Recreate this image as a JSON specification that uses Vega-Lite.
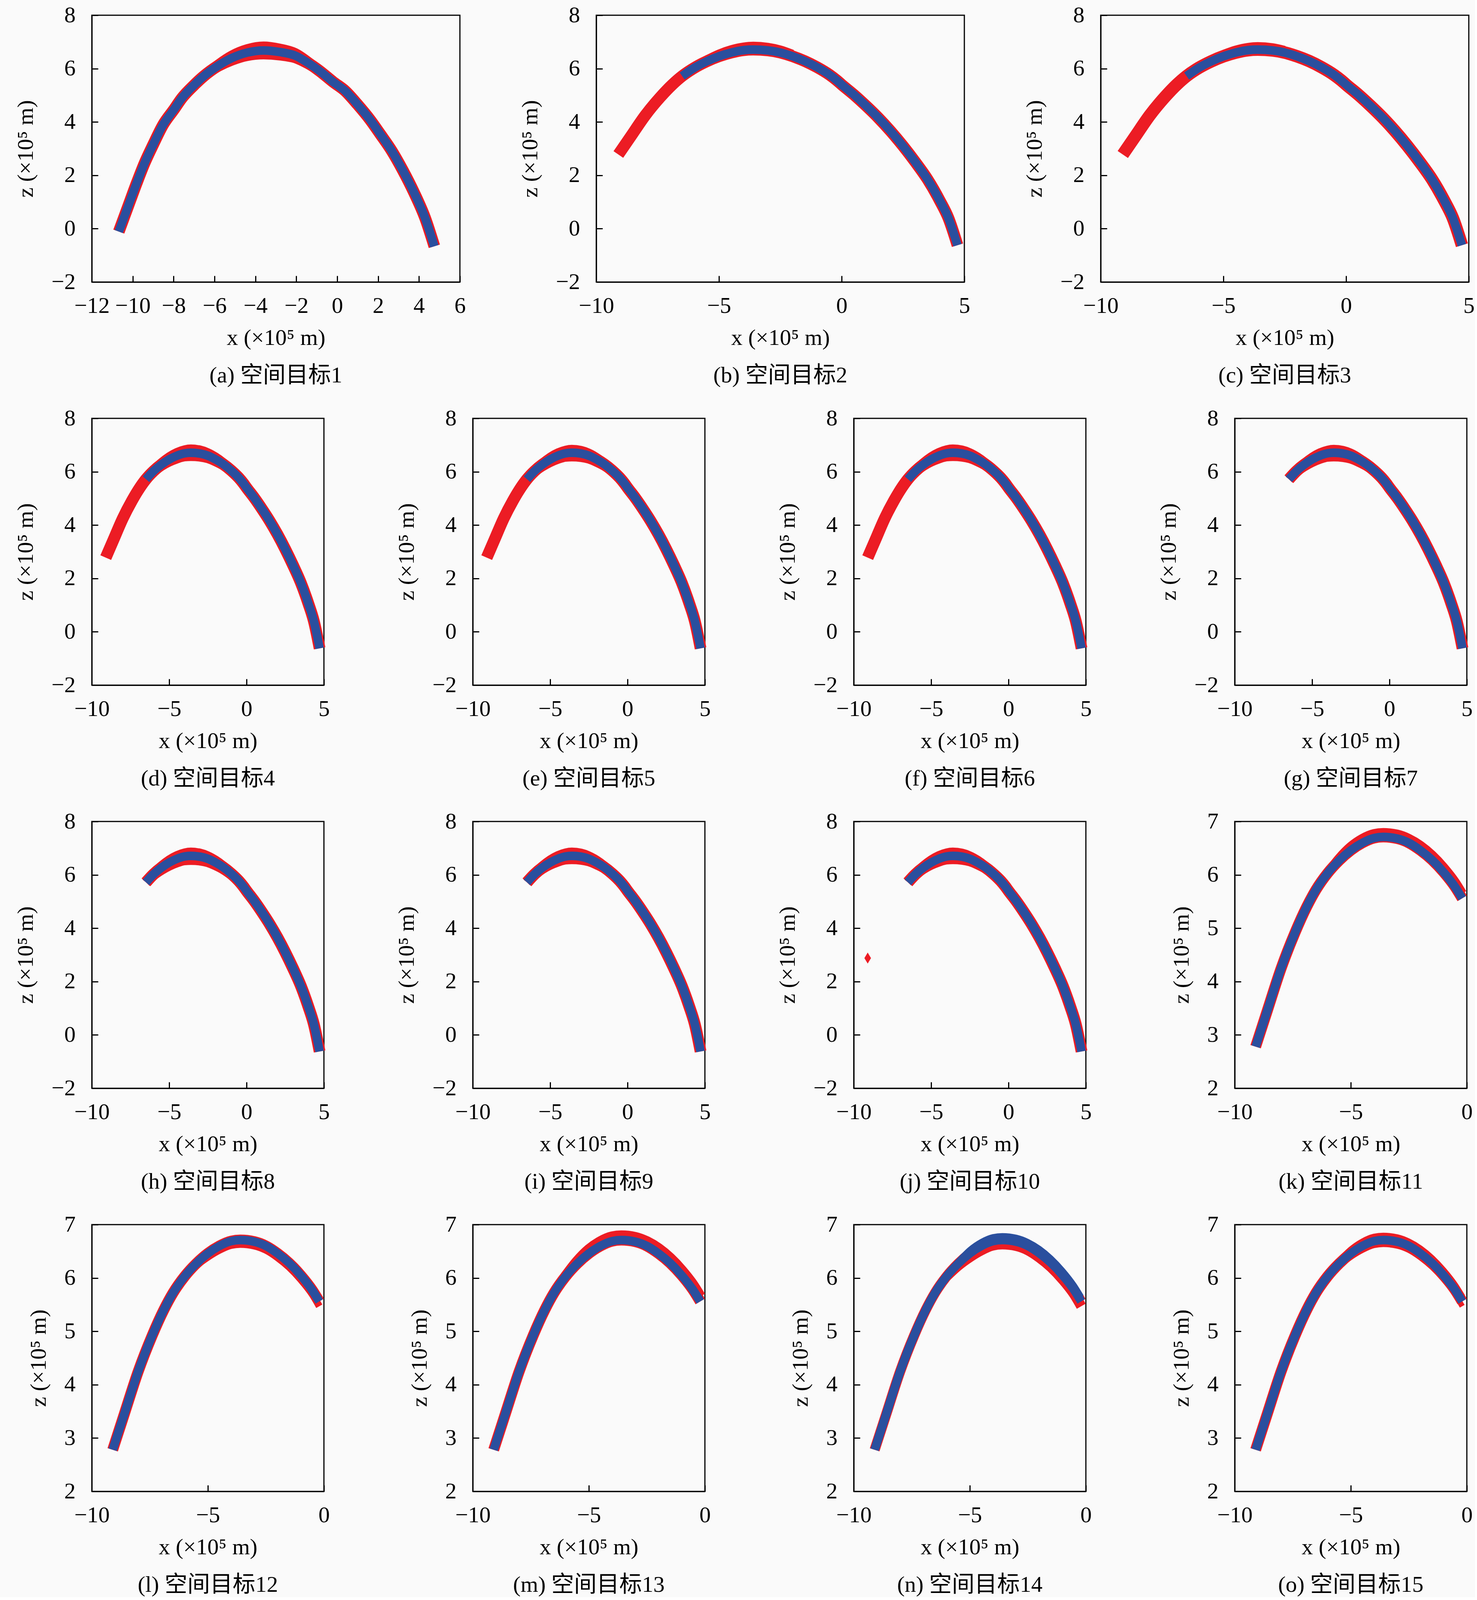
{
  "$schema": "https://vega.github.io/schema/vega-lite/v6.json",
  "background": "#fafafa",
  "padding": {"left": 35, "top": 8, "right": 0, "bottom": 0},
  "datasets": {
    "ta": [
      {"x": -10.68, "z": -0.11}, {"x": -10.2, "z": 0.89}, {"x": -9.8, "z": 1.72}, {"x": -9.43, "z": 2.44},
      {"x": -9.0, "z": 3.15}, {"x": -8.51, "z": 3.9}, {"x": -8.0, "z": 4.45}, {"x": -7.59, "z": 4.9},
      {"x": -7.0, "z": 5.38}, {"x": -6.52, "z": 5.72}, {"x": -5.8, "z": 6.12}, {"x": -5.14, "z": 6.4},
      {"x": -4.4, "z": 6.6}, {"x": -3.6, "z": 6.68}, {"x": -2.8, "z": 6.62}, {"x": -2.07, "z": 6.49},
      {"x": -1.4, "z": 6.2}, {"x": -0.84, "z": 5.9}, {"x": -0.2, "z": 5.5}, {"x": 0.38, "z": 5.17},
      {"x": 1.0, "z": 4.65}, {"x": 1.61, "z": 4.08}, {"x": 2.1, "z": 3.55}, {"x": 2.68, "z": 2.9},
      {"x": 3.2, "z": 2.2}, {"x": 3.76, "z": 1.35}, {"x": 4.3, "z": 0.4}, {"x": 4.75, "z": -0.66}
    ],
    "taHi": [
      {"x": -6.52, "z": 5.72}, {"x": -5.8, "z": 6.18}, {"x": -5.14, "z": 6.51}, {"x": -4.4, "z": 6.74},
      {"x": -3.6, "z": 6.84}, {"x": -2.8, "z": 6.76}, {"x": -2.07, "z": 6.6}, {"x": -1.4, "z": 6.26},
      {"x": -0.84, "z": 5.9}
    ],
    "taLo": [
      {"x": -6.52, "z": 5.72}, {"x": -5.8, "z": 6.06}, {"x": -5.14, "z": 6.29}, {"x": -4.4, "z": 6.46},
      {"x": -3.6, "z": 6.52}, {"x": -2.8, "z": 6.48}, {"x": -2.07, "z": 6.38}, {"x": -1.4, "z": 6.14},
      {"x": -0.84, "z": 5.9}
    ],
    "t": [
      {"x": -9.1, "z": 2.78}, {"x": -8.6, "z": 3.45}, {"x": -8.0, "z": 4.25}, {"x": -7.4, "z": 4.92},
      {"x": -6.9, "z": 5.4}, {"x": -6.5, "z": 5.72}, {"x": -6.0, "z": 6.03}, {"x": -5.5, "z": 6.27},
      {"x": -5.0, "z": 6.46}, {"x": -4.5, "z": 6.6}, {"x": -4.0, "z": 6.69}, {"x": -3.6, "z": 6.71},
      {"x": -3.0, "z": 6.68}, {"x": -2.5, "z": 6.6}, {"x": -2.0, "z": 6.46}, {"x": -1.5, "z": 6.28},
      {"x": -1.0, "z": 6.05}, {"x": -0.5, "z": 5.77}, {"x": -0.2, "z": 5.56}, {"x": 0.0, "z": 5.4},
      {"x": 0.5, "z": 5.02}, {"x": 1.0, "z": 4.6}, {"x": 1.5, "z": 4.15}, {"x": 2.0, "z": 3.65},
      {"x": 2.5, "z": 3.1}, {"x": 3.0, "z": 2.5}, {"x": 3.5, "z": 1.85}, {"x": 4.0, "z": 1.05},
      {"x": 4.35, "z": 0.4}, {"x": 4.72, "z": -0.62}
    ],
    "tHi": [
      {"x": -6.5, "z": 5.72}, {"x": -6.0, "z": 6.07}, {"x": -5.5, "z": 6.35}, {"x": -5.0, "z": 6.57},
      {"x": -4.5, "z": 6.73}, {"x": -4.0, "z": 6.83}, {"x": -3.6, "z": 6.86}, {"x": -3.0, "z": 6.82},
      {"x": -2.5, "z": 6.72}, {"x": -2.0, "z": 6.56}, {"x": -1.5, "z": 6.35}, {"x": -1.0, "z": 6.09},
      {"x": -0.5, "z": 5.77}
    ],
    "tLo": [
      {"x": -6.5, "z": 5.72}, {"x": -6.0, "z": 5.99}, {"x": -5.5, "z": 6.19}, {"x": -5.0, "z": 6.35},
      {"x": -4.5, "z": 6.47}, {"x": -4.0, "z": 6.55}, {"x": -3.6, "z": 6.56}, {"x": -3.0, "z": 6.54},
      {"x": -2.5, "z": 6.48}, {"x": -2.0, "z": 6.36}, {"x": -1.5, "z": 6.21}, {"x": -1.0, "z": 6.01},
      {"x": -0.5, "z": 5.77}
    ],
    "hi": [
      {"x": -6.0, "z": 6.03}, {"x": -5.5, "z": 6.31}, {"x": -5.0, "z": 6.53}, {"x": -4.5, "z": 6.68},
      {"x": -4.0, "z": 6.77}, {"x": -3.6, "z": 6.79}, {"x": -3.0, "z": 6.76}, {"x": -2.5, "z": 6.68},
      {"x": -2.0, "z": 6.55}, {"x": -1.5, "z": 6.37}, {"x": -1.0, "z": 6.14}, {"x": -0.5, "z": 5.86},
      {"x": -0.2, "z": 5.65}
    ],
    "lo": [
      {"x": -6.0, "z": 6.03}, {"x": -5.5, "z": 6.23}, {"x": -5.0, "z": 6.39}, {"x": -4.5, "z": 6.52},
      {"x": -4.0, "z": 6.61}, {"x": -3.6, "z": 6.63}, {"x": -3.0, "z": 6.6}, {"x": -2.5, "z": 6.52},
      {"x": -2.0, "z": 6.38}, {"x": -1.5, "z": 6.2}, {"x": -1.0, "z": 5.97}, {"x": -0.5, "z": 5.69},
      {"x": -0.2, "z": 5.47}
    ],
    "dot": [{"x": -9.1, "z": 2.88}]
  },
  "spacing": 47,
  "vconcat": [
    {
      "bounds": "flush",
      "spacing": 349,
      "hconcat": [
        {
          "width": 942, "height": 683, "title": "(a) 空间目标1",
          "encoding": {
            "x": {"field": "x", "type": "quantitative", "scale": {"domain": [-12, 6], "nice": false, "zero": false}, "axis": {"values": [-12, -10, -8, -6, -4, -2, 0, 2, 4, 6], "title": "x (×10⁵ m)"}},
            "y": {"field": "z", "type": "quantitative", "scale": {"domain": [-2, 8], "nice": false, "zero": false}, "axis": {"values": [-2, 0, 2, 4, 6, 8], "title": "z (×10⁵ m)"}}
          },
          "layer": [
            {"data": {"name": "ta"}, "mark": {"type": "line", "color": "#ec1c24", "strokeWidth": 30, "interpolate": "monotone", "strokeJoin": "round"}},
            {"data": {"name": "taHi"}, "mark": {"type": "line", "color": "#ec1c24", "strokeWidth": 24, "interpolate": "monotone", "strokeJoin": "round"}},
            {"data": {"name": "taLo"}, "mark": {"type": "line", "color": "#ec1c24", "strokeWidth": 24, "interpolate": "monotone", "strokeJoin": "round"}},
            {"data": {"name": "ta"}, "mark": {"type": "line", "color": "#2a4f9e", "strokeWidth": 22, "interpolate": "monotone", "strokeJoin": "round"}}
          ]
        },
        {
          "width": 942, "height": 683, "title": "(b) 空间目标2",
          "encoding": {
            "x": {"field": "x", "type": "quantitative", "scale": {"domain": [-10, 5], "nice": false, "zero": false}, "axis": {"values": [-10, -5, 0, 5], "title": "x (×10⁵ m)"}},
            "y": {"field": "z", "type": "quantitative", "scale": {"domain": [-2, 8], "nice": false, "zero": false}, "axis": {"values": [-2, 0, 2, 4, 6, 8], "title": "z (×10⁵ m)"}}
          },
          "layer": [
            {"data": {"name": "t"}, "mark": {"type": "line", "color": "#ec1c24", "strokeWidth": 30, "interpolate": "monotone", "strokeJoin": "round"}},
            {"data": {"name": "tHi"}, "transform": [{"filter": "datum.x >= -5.5 && datum.x <= -2.0"}], "mark": {"type": "line", "color": "#ec1c24", "strokeWidth": 20, "interpolate": "monotone", "strokeJoin": "round"}},
            {"data": {"name": "t"}, "transform": [{"filter": "datum.x >= -6.55"}], "mark": {"type": "line", "color": "#2a4f9e", "strokeWidth": 22, "interpolate": "monotone", "strokeJoin": "round"}}
          ]
        },
        {
          "width": 942, "height": 683, "title": "(c) 空间目标3",
          "encoding": {
            "x": {"field": "x", "type": "quantitative", "scale": {"domain": [-10, 5], "nice": false, "zero": false}, "axis": {"values": [-10, -5, 0, 5], "title": "x (×10⁵ m)"}},
            "y": {"field": "z", "type": "quantitative", "scale": {"domain": [-2, 8], "nice": false, "zero": false}, "axis": {"values": [-2, 0, 2, 4, 6, 8], "title": "z (×10⁵ m)"}}
          },
          "layer": [
            {"data": {"name": "t"}, "mark": {"type": "line", "color": "#ec1c24", "strokeWidth": 32, "interpolate": "monotone", "strokeJoin": "round"}},
            {"data": {"name": "tHi"}, "transform": [{"filter": "datum.x >= -5.0 && datum.x <= -2.5"}], "mark": {"type": "line", "color": "#ec1c24", "strokeWidth": 18, "interpolate": "monotone", "strokeJoin": "round"}},
            {"data": {"name": "t"}, "transform": [{"filter": "datum.x >= -6.55"}], "mark": {"type": "line", "color": "#2a4f9e", "strokeWidth": 22, "interpolate": "monotone", "strokeJoin": "round"}}
          ]
        }
      ]
    },
    {
      "bounds": "flush",
      "spacing": 381,
      "hconcat": [
        {
          "width": 594, "height": 683, "title": "(d) 空间目标4",
          "encoding": {
            "x": {"field": "x", "type": "quantitative", "scale": {"domain": [-10, 5], "nice": false, "zero": false}, "axis": {"values": [-10, -5, 0, 5], "title": "x (×10⁵ m)"}},
            "y": {"field": "z", "type": "quantitative", "scale": {"domain": [-2, 8], "nice": false, "zero": false}, "axis": {"values": [-2, 0, 2, 4, 6, 8], "title": "z (×10⁵ m)"}}
          },
          "layer": [
            {"data": {"name": "t"}, "mark": {"type": "line", "color": "#ec1c24", "strokeWidth": 30, "interpolate": "monotone", "strokeJoin": "round"}},
            {"data": {"name": "tHi"}, "mark": {"type": "line", "color": "#ec1c24", "strokeWidth": 22, "interpolate": "monotone", "strokeJoin": "round"}},
            {"data": {"name": "tLo"}, "mark": {"type": "line", "color": "#ec1c24", "strokeWidth": 22, "interpolate": "monotone", "strokeJoin": "round"}},
            {"data": {"name": "t"}, "transform": [{"filter": "datum.x >= -6.55"}], "mark": {"type": "line", "color": "#2a4f9e", "strokeWidth": 22, "interpolate": "monotone", "strokeJoin": "round"}}
          ]
        },
        {
          "width": 594, "height": 683, "title": "(e) 空间目标5",
          "encoding": {
            "x": {"field": "x", "type": "quantitative", "scale": {"domain": [-10, 5], "nice": false, "zero": false}, "axis": {"values": [-10, -5, 0, 5], "title": "x (×10⁵ m)"}},
            "y": {"field": "z", "type": "quantitative", "scale": {"domain": [-2, 8], "nice": false, "zero": false}, "axis": {"values": [-2, 0, 2, 4, 6, 8], "title": "z (×10⁵ m)"}}
          },
          "layer": [
            {"data": {"name": "t"}, "mark": {"type": "line", "color": "#ec1c24", "strokeWidth": 30, "interpolate": "monotone", "strokeJoin": "round"}},
            {"data": {"name": "tHi"}, "mark": {"type": "line", "color": "#ec1c24", "strokeWidth": 20, "interpolate": "monotone", "strokeJoin": "round"}},
            {"data": {"name": "tLo"}, "mark": {"type": "line", "color": "#ec1c24", "strokeWidth": 24, "interpolate": "monotone", "strokeJoin": "round"}},
            {"data": {"name": "t"}, "transform": [{"filter": "datum.x >= -6.55"}], "mark": {"type": "line", "color": "#2a4f9e", "strokeWidth": 22, "interpolate": "monotone", "strokeJoin": "round"}}
          ]
        },
        {
          "width": 594, "height": 683, "title": "(f) 空间目标6",
          "encoding": {
            "x": {"field": "x", "type": "quantitative", "scale": {"domain": [-10, 5], "nice": false, "zero": false}, "axis": {"values": [-10, -5, 0, 5], "title": "x (×10⁵ m)"}},
            "y": {"field": "z", "type": "quantitative", "scale": {"domain": [-2, 8], "nice": false, "zero": false}, "axis": {"values": [-2, 0, 2, 4, 6, 8], "title": "z (×10⁵ m)"}}
          },
          "layer": [
            {"data": {"name": "t"}, "mark": {"type": "line", "color": "#ec1c24", "strokeWidth": 30, "interpolate": "monotone", "strokeJoin": "round"}},
            {"data": {"name": "tHi"}, "mark": {"type": "line", "color": "#ec1c24", "strokeWidth": 22, "interpolate": "monotone", "strokeJoin": "round"}},
            {"data": {"name": "tLo"}, "mark": {"type": "line", "color": "#ec1c24", "strokeWidth": 22, "interpolate": "monotone", "strokeJoin": "round"}},
            {"data": {"name": "t"}, "transform": [{"filter": "datum.x >= -6.55"}], "mark": {"type": "line", "color": "#2a4f9e", "strokeWidth": 22, "interpolate": "monotone", "strokeJoin": "round"}}
          ]
        },
        {
          "width": 594, "height": 683, "title": "(g) 空间目标7",
          "encoding": {
            "x": {"field": "x", "type": "quantitative", "scale": {"domain": [-10, 5], "nice": false, "zero": false}, "axis": {"values": [-10, -5, 0, 5], "title": "x (×10⁵ m)"}},
            "y": {"field": "z", "type": "quantitative", "scale": {"domain": [-2, 8], "nice": false, "zero": false}, "axis": {"values": [-2, 0, 2, 4, 6, 8], "title": "z (×10⁵ m)"}}
          },
          "layer": [
            {"data": {"name": "t"}, "transform": [{"filter": "datum.x >= -6.55"}], "mark": {"type": "line", "color": "#ec1c24", "strokeWidth": 30, "interpolate": "monotone", "strokeJoin": "round"}},
            {"data": {"name": "tHi"}, "mark": {"type": "line", "color": "#ec1c24", "strokeWidth": 20, "interpolate": "monotone", "strokeJoin": "round"}},
            {"data": {"name": "tLo"}, "mark": {"type": "line", "color": "#ec1c24", "strokeWidth": 24, "interpolate": "monotone", "strokeJoin": "round"}},
            {"data": {"name": "t"}, "transform": [{"filter": "datum.x >= -6.55"}], "mark": {"type": "line", "color": "#2a4f9e", "strokeWidth": 22, "interpolate": "monotone", "strokeJoin": "round"}}
          ]
        }
      ]
    },
    {
      "bounds": "flush",
      "spacing": 381,
      "hconcat": [
        {
          "width": 594, "height": 683, "title": "(h) 空间目标8",
          "encoding": {
            "x": {"field": "x", "type": "quantitative", "scale": {"domain": [-10, 5], "nice": false, "zero": false}, "axis": {"values": [-10, -5, 0, 5], "title": "x (×10⁵ m)"}},
            "y": {"field": "z", "type": "quantitative", "scale": {"domain": [-2, 8], "nice": false, "zero": false}, "axis": {"values": [-2, 0, 2, 4, 6, 8], "title": "z (×10⁵ m)"}}
          },
          "layer": [
            {"data": {"name": "t"}, "transform": [{"filter": "datum.x >= -6.55"}], "mark": {"type": "line", "color": "#ec1c24", "strokeWidth": 30, "interpolate": "monotone", "strokeJoin": "round"}},
            {"data": {"name": "tHi"}, "mark": {"type": "line", "color": "#ec1c24", "strokeWidth": 22, "interpolate": "monotone", "strokeJoin": "round"}},
            {"data": {"name": "tLo"}, "mark": {"type": "line", "color": "#ec1c24", "strokeWidth": 26, "interpolate": "monotone", "strokeJoin": "round"}},
            {"data": {"name": "t"}, "transform": [{"filter": "datum.x >= -6.55"}], "mark": {"type": "line", "color": "#2a4f9e", "strokeWidth": 22, "interpolate": "monotone", "strokeJoin": "round"}}
          ]
        },
        {
          "width": 594, "height": 683, "title": "(i) 空间目标9",
          "encoding": {
            "x": {"field": "x", "type": "quantitative", "scale": {"domain": [-10, 5], "nice": false, "zero": false}, "axis": {"values": [-10, -5, 0, 5], "title": "x (×10⁵ m)"}},
            "y": {"field": "z", "type": "quantitative", "scale": {"domain": [-2, 8], "nice": false, "zero": false}, "axis": {"values": [-2, 0, 2, 4, 6, 8], "title": "z (×10⁵ m)"}}
          },
          "layer": [
            {"data": {"name": "t"}, "transform": [{"filter": "datum.x >= -6.55"}], "mark": {"type": "line", "color": "#ec1c24", "strokeWidth": 30, "interpolate": "monotone", "strokeJoin": "round"}},
            {"data": {"name": "tHi"}, "mark": {"type": "line", "color": "#ec1c24", "strokeWidth": 22, "interpolate": "monotone", "strokeJoin": "round"}},
            {"data": {"name": "tLo"}, "mark": {"type": "line", "color": "#ec1c24", "strokeWidth": 22, "interpolate": "monotone", "strokeJoin": "round"}},
            {"data": {"name": "t"}, "transform": [{"filter": "datum.x >= -6.55"}], "mark": {"type": "line", "color": "#2a4f9e", "strokeWidth": 22, "interpolate": "monotone", "strokeJoin": "round"}}
          ]
        },
        {
          "width": 594, "height": 683, "title": "(j) 空间目标10",
          "encoding": {
            "x": {"field": "x", "type": "quantitative", "scale": {"domain": [-10, 5], "nice": false, "zero": false}, "axis": {"values": [-10, -5, 0, 5], "title": "x (×10⁵ m)"}},
            "y": {"field": "z", "type": "quantitative", "scale": {"domain": [-2, 8], "nice": false, "zero": false}, "axis": {"values": [-2, 0, 2, 4, 6, 8], "title": "z (×10⁵ m)"}}
          },
          "layer": [
            {"data": {"name": "dot"}, "mark": {"type": "point", "shape": "M0,-1L0.6,0L0,1L-0.6,0Z", "filled": true, "opacity": 1, "color": "#ec1c24", "size": 800}},
            {"data": {"name": "t"}, "transform": [{"filter": "datum.x >= -6.55"}], "mark": {"type": "line", "color": "#ec1c24", "strokeWidth": 30, "interpolate": "monotone", "strokeJoin": "round"}},
            {"data": {"name": "tHi"}, "mark": {"type": "line", "color": "#ec1c24", "strokeWidth": 22, "interpolate": "monotone", "strokeJoin": "round"}},
            {"data": {"name": "tLo"}, "mark": {"type": "line", "color": "#ec1c24", "strokeWidth": 22, "interpolate": "monotone", "strokeJoin": "round"}},
            {"data": {"name": "t"}, "transform": [{"filter": "datum.x >= -6.55"}], "mark": {"type": "line", "color": "#2a4f9e", "strokeWidth": 22, "interpolate": "monotone", "strokeJoin": "round"}}
          ]
        },
        {
          "width": 594, "height": 683, "title": "(k) 空间目标11",
          "encoding": {
            "x": {"field": "x", "type": "quantitative", "scale": {"domain": [-10, 0], "nice": false, "zero": false}, "axis": {"values": [-10, -5, 0], "title": "x (×10⁵ m)"}},
            "y": {"field": "z", "type": "quantitative", "scale": {"domain": [2, 7], "nice": false, "zero": false}, "axis": {"values": [2, 3, 4, 5, 6, 7], "title": "z (×10⁵ m)"}}
          },
          "layer": [
            {"data": {"name": "t"}, "transform": [{"filter": "datum.x <= -0.15"}], "mark": {"type": "line", "color": "#ec1c24", "strokeWidth": 28, "interpolate": "monotone", "strokeJoin": "round"}},
            {"data": {"name": "hi"}, "mark": {"type": "line", "color": "#ec1c24", "strokeWidth": 24, "interpolate": "monotone", "strokeJoin": "round"}},
            {"data": {"name": "t"}, "transform": [{"filter": "datum.x <= -0.15"}], "mark": {"type": "line", "color": "#2a4f9e", "strokeWidth": 22, "interpolate": "monotone", "strokeJoin": "round"}}
          ]
        }
      ]
    },
    {
      "bounds": "flush",
      "spacing": 381,
      "hconcat": [
        {
          "width": 594, "height": 683, "title": "(l) 空间目标12",
          "encoding": {
            "x": {"field": "x", "type": "quantitative", "scale": {"domain": [-10, 0], "nice": false, "zero": false}, "axis": {"values": [-10, -5, 0], "title": "x (×10⁵ m)"}},
            "y": {"field": "z", "type": "quantitative", "scale": {"domain": [2, 7], "nice": false, "zero": false}, "axis": {"values": [2, 3, 4, 5, 6, 7], "title": "z (×10⁵ m)"}}
          },
          "layer": [
            {"data": {"name": "t"}, "transform": [{"filter": "datum.x <= -0.15"}], "mark": {"type": "line", "color": "#ec1c24", "strokeWidth": 28, "interpolate": "monotone", "strokeJoin": "round"}},
            {"data": {"name": "lo"}, "mark": {"type": "line", "color": "#ec1c24", "strokeWidth": 18, "interpolate": "monotone", "strokeJoin": "round"}},
            {"data": {"name": "t"}, "transform": [{"filter": "datum.x <= -0.15"}], "mark": {"type": "line", "color": "#2a4f9e", "strokeWidth": 22, "interpolate": "monotone", "strokeJoin": "round"}}
          ]
        },
        {
          "width": 594, "height": 683, "title": "(m) 空间目标13",
          "encoding": {
            "x": {"field": "x", "type": "quantitative", "scale": {"domain": [-10, 0], "nice": false, "zero": false}, "axis": {"values": [-10, -5, 0], "title": "x (×10⁵ m)"}},
            "y": {"field": "z", "type": "quantitative", "scale": {"domain": [2, 7], "nice": false, "zero": false}, "axis": {"values": [2, 3, 4, 5, 6, 7], "title": "z (×10⁵ m)"}}
          },
          "layer": [
            {"data": {"name": "t"}, "transform": [{"filter": "datum.x <= -0.15"}], "mark": {"type": "line", "color": "#ec1c24", "strokeWidth": 28, "interpolate": "monotone", "strokeJoin": "round"}},
            {"data": {"name": "hi"}, "mark": {"type": "line", "color": "#ec1c24", "strokeWidth": 28, "interpolate": "monotone", "strokeJoin": "round"}},
            {"data": {"name": "t"}, "transform": [{"filter": "datum.x <= -0.15"}], "mark": {"type": "line", "color": "#2a4f9e", "strokeWidth": 22, "interpolate": "monotone", "strokeJoin": "round"}}
          ]
        },
        {
          "width": 594, "height": 683, "title": "(n) 空间目标14",
          "encoding": {
            "x": {"field": "x", "type": "quantitative", "scale": {"domain": [-10, 0], "nice": false, "zero": false}, "axis": {"values": [-10, -5, 0], "title": "x (×10⁵ m)"}},
            "y": {"field": "z", "type": "quantitative", "scale": {"domain": [2, 7], "nice": false, "zero": false}, "axis": {"values": [2, 3, 4, 5, 6, 7], "title": "z (×10⁵ m)"}}
          },
          "layer": [
            {"data": {"name": "lo"}, "mark": {"type": "line", "color": "#ec1c24", "strokeWidth": 26, "interpolate": "monotone", "strokeJoin": "round"}},
            {"data": {"name": "t"}, "transform": [{"filter": "datum.x <= -0.15"}], "mark": {"type": "line", "color": "#ec1c24", "strokeWidth": 26, "interpolate": "monotone", "strokeJoin": "round"}},
            {"data": {"name": "hi"}, "transform": [{"filter": "datum.x >= -5.5"}], "mark": {"type": "line", "color": "#2a4f9e", "strokeWidth": 14, "interpolate": "monotone", "strokeJoin": "round"}},
            {"data": {"name": "t"}, "transform": [{"filter": "datum.x <= -0.15"}], "mark": {"type": "line", "color": "#2a4f9e", "strokeWidth": 22, "interpolate": "monotone", "strokeJoin": "round"}}
          ]
        },
        {
          "width": 594, "height": 683, "title": "(o) 空间目标15",
          "encoding": {
            "x": {"field": "x", "type": "quantitative", "scale": {"domain": [-10, 0], "nice": false, "zero": false}, "axis": {"values": [-10, -5, 0], "title": "x (×10⁵ m)"}},
            "y": {"field": "z", "type": "quantitative", "scale": {"domain": [2, 7], "nice": false, "zero": false}, "axis": {"values": [2, 3, 4, 5, 6, 7], "title": "z (×10⁵ m)"}}
          },
          "layer": [
            {"data": {"name": "t"}, "transform": [{"filter": "datum.x <= -0.15"}], "mark": {"type": "line", "color": "#ec1c24", "strokeWidth": 28, "interpolate": "monotone", "strokeJoin": "round"}},
            {"data": {"name": "hi"}, "mark": {"type": "line", "color": "#ec1c24", "strokeWidth": 16, "interpolate": "monotone", "strokeJoin": "round"}},
            {"data": {"name": "lo"}, "mark": {"type": "line", "color": "#ec1c24", "strokeWidth": 14, "interpolate": "monotone", "strokeJoin": "round"}},
            {"data": {"name": "t"}, "transform": [{"filter": "datum.x <= -0.15"}], "mark": {"type": "line", "color": "#2a4f9e", "strokeWidth": 22, "interpolate": "monotone", "strokeJoin": "round"}}
          ]
        }
      ]
    }
  ],
  "config": {
    "font": "Liberation Serif",
    "view": {"stroke": "#000000", "strokeWidth": 3},
    "axis": {
      "grid": false,
      "domainColor": "#000000",
      "domainWidth": 3,
      "tickColor": "#000000",
      "tickWidth": 3,
      "tickSize": -16,
      "labelFont": "Liberation Serif",
      "labelFontSize": 58,
      "labelColor": "#000000",
      "labelOverlap": false,
      "labelFlush": false,
      "titleFont": "Liberation Serif",
      "titleFontSize": 58,
      "titleFontWeight": "normal",
      "titleColor": "#000000"
    },
    "axisX": {"labelPadding": 48, "titlePadding": 24},
    "axisY": {"labelPadding": 58, "titlePadding": 36},
    "title": {
      "orient": "bottom",
      "frame": "group",
      "anchor": "middle",
      "offset": 39,
      "font": "Liberation Serif, Noto Sans CJK SC",
      "fontSize": 58,
      "fontWeight": "normal",
      "color": "#000000"
    }
  }
}
